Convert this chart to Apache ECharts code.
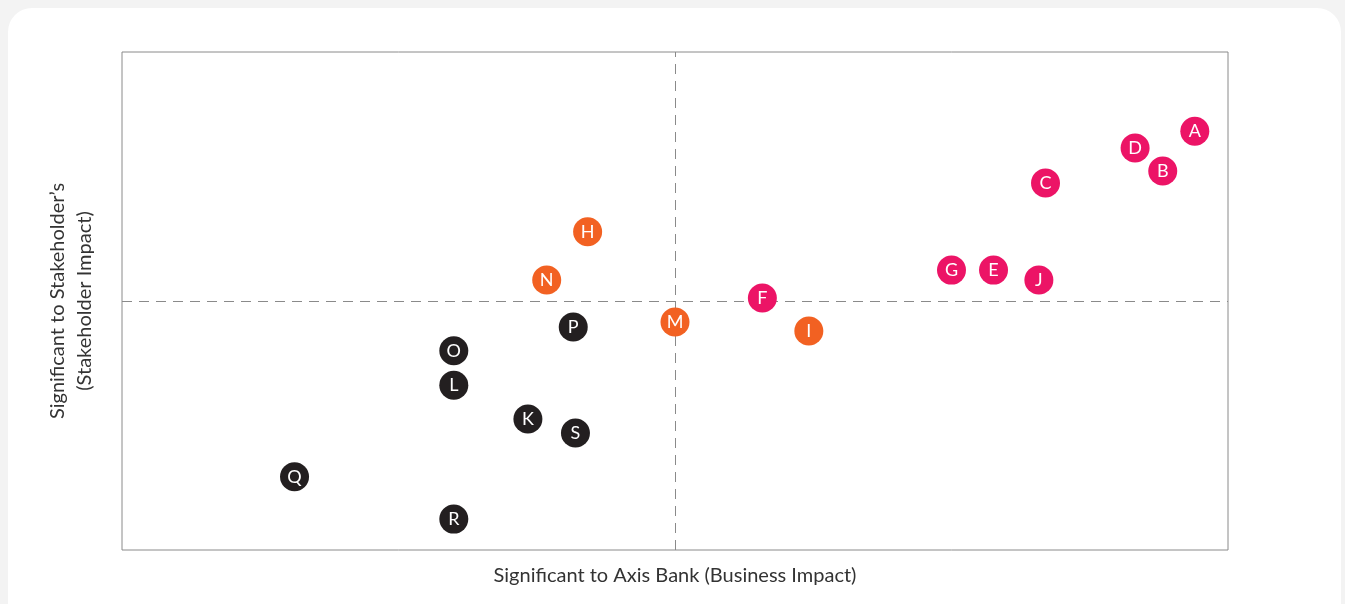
<!DOCTYPE html>
<html><head><meta charset="utf-8">
<script src="https://cdn.jsdelivr.net/npm/echarts@6/dist/echarts.min.js"></script>
<style>
html,body{margin:0;padding:0;background:#f3f3f3;}
#card{position:absolute;left:8px;top:8px;width:1333px;height:620px;background:#fff;border-radius:24px;}
#chart{position:absolute;left:0;top:0;width:1345px;height:604px;}
</style></head>
<body><div id="card"></div><div id="chart"></div>
<script>
const labels = ['A','D','B','C','G','E','J','F','I','M','H','N','P','O','L','K','S','Q','R'];
const xVals  = [97.0,91.6,94.1,83.5,75.0,78.8,82.9,57.9,62.1,50.0,42.1,38.4,40.8,30.0,30.0,36.7,41.0,15.6,30.0];
const yVals  = [84.1,80.7,76.1,73.7,56.2,56.2,54.2,50.6,44.0,45.8,63.9,54.2,44.8,40.0,33.1,26.3,23.5,14.7,6.2];
const groups = ['pink','pink','pink','pink','pink','pink','pink','pink','orange','orange','orange','orange','black','black','black','black','black','black','black'];
const colors = {pink:'#EC1466', orange:'#F26122', black:'#231F20'};
const xName = 'Significant to Axis Bank (Business Impact)';
const yName = 'Significant to Stakeholder\u2019s\n(Stakeholder Impact)';

const data = labels.map((l,i)=>({name:l, value:[xVals[i], yVals[i]], itemStyle:{color:colors[groups[i]], opacity:1}}));
const chart = echarts.init(document.getElementById('chart'));
chart.setOption({
  animation:false,
  textStyle:{fontFamily:'Lato'},
  grid:{left:122, right:117, top:52, bottom:54, show:true, borderColor:'#8a8a8a', borderWidth:1, backgroundColor:'transparent'},
  xAxis:{type:'value', min:0, max:100, axisLine:{show:false}, axisTick:{show:false}, axisLabel:{show:false}, splitLine:{show:false},
    name:xName, nameLocation:'middle', nameGap:16, nameTextStyle:{fontSize:20, color:'#333', fontFamily:'Lato'}},
  yAxis:{type:'value', min:0, max:100, axisLine:{show:false}, axisTick:{show:false}, axisLabel:{show:false}, splitLine:{show:false},
    name:yName, nameLocation:'middle', nameGap:24, nameTextStyle:{fontSize:20, color:'#333', fontFamily:'Lato', lineHeight:27}},
  series:[{
    type:'scatter', data:[], z:1,
    markLine:{silent:true, symbol:'none', label:{show:false},
      lineStyle:{type:[10,7], color:'#8a8a8a', width:1},
      data:[{xAxis:50},{yAxis:50}]}
  },{
    type:'scatter', symbolSize:29, data:data, z:5,
    itemStyle:{opacity:1},
    label:{show:true, position:'inside', formatter:'{b}', color:'#fff', fontSize:18, fontFamily:'Lato'}
  }]
});
</script></body></html>
